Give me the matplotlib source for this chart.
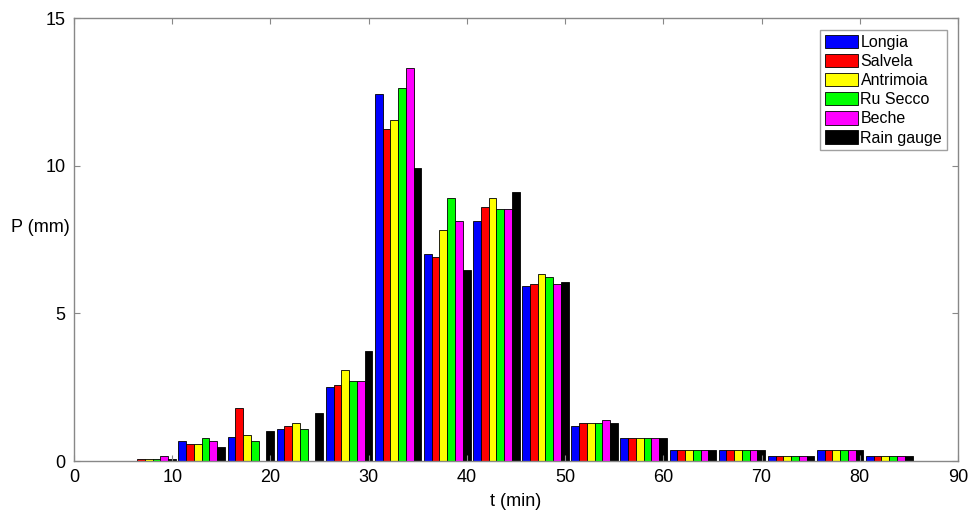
import matplotlib
matplotlib.use("Agg")
import matplotlib.pyplot as plt
import numpy as np

plt.rcParams['font.family'] = ['Liberation Sans', 'DejaVu Sans']

t_centers = [8, 13, 18, 23, 28, 33, 38, 43, 48, 53, 58, 63, 68, 73, 78, 83]
series_names = ["Longia", "Salvela", "Antrimoia", "Ru Secco", "Beche", "Rain gauge"]
colors = ["#0000ff", "#ff0000", "#ffff00", "#00ff00", "#ff00ff", "#000000"]

longia    = [0.0,  0.68, 0.80, 1.09, 2.49, 12.44, 7.00, 8.13, 5.92, 1.20, 0.79, 0.37, 0.37, 0.18, 0.37, 0.18]
salvela   = [0.08, 0.58, 1.80, 1.19, 2.58, 11.25, 6.90, 8.61, 6.01, 1.29, 0.79, 0.37, 0.37, 0.18, 0.37, 0.18]
antrimoia = [0.08, 0.58, 0.88, 1.29, 3.09, 11.53, 7.82, 8.90, 6.32, 1.29, 0.79, 0.37, 0.37, 0.18, 0.37, 0.18]
ru_secco  = [0.08, 0.79, 0.68, 1.09, 2.70, 12.64, 8.90, 8.53, 6.23, 1.29, 0.79, 0.37, 0.37, 0.18, 0.37, 0.18]
beche     = [0.18, 0.68, 0.0,  0.0,  2.70, 13.32, 8.12, 8.53, 6.01, 1.40, 0.79, 0.37, 0.37, 0.18, 0.37, 0.18]
rain      = [0.08, 0.49, 1.00, 1.64, 3.71, 9.92, 6.47, 9.12, 6.06, 1.29, 0.79, 0.37, 0.37, 0.18, 0.37, 0.18]

series = [longia, salvela, antrimoia, ru_secco, beche, rain]

fig = plt.figure(figsize=(9.68, 5.11), dpi=100)
ax = fig.add_axes([74/968, 50/511, (958-74)/968, (461-18)/511])

bw = 0.79
x = np.array(t_centers, dtype=float)
for i, (vals, c, name) in enumerate(zip(series, colors, series_names)):
    ax.bar(x + (i - 2.5) * bw, vals, width=bw, color=c, edgecolor='black',
           linewidth=0.6, label=name)

ax.set_xlim(0, 90)
ax.set_ylim(0, 15)
ax.set_xticks(np.arange(0, 91, 10))
ax.set_yticks([0, 5, 10, 15])
ax.tick_params(direction='in', length=4, color='#888888', labelsize=13,
               top=True, right=True, pad=6)
for s in ax.spines.values():
    s.set_color('#888888')
    s.set_linewidth(1.0)

ax.set_xlabel("t (min)", fontsize=13, labelpad=5)
ax.set_ylabel("P (mm)", fontsize=13, rotation=0, ha='center', va='center')
ax.yaxis.set_label_coords(-0.038, 0.526)

leg = ax.legend(loc='upper right', bbox_to_anchor=(0.9876, 0.973), fontsize=11.5,
                frameon=True, fancybox=False, handlelength=2.1, handleheight=0.9,
                handletextpad=0.15, labelspacing=0.25, borderpad=0.3, borderaxespad=0)
leg.get_frame().set_edgecolor('#888888')
leg.get_frame().set_linewidth(1.0)

fig.savefig("out.png", dpi=100)
